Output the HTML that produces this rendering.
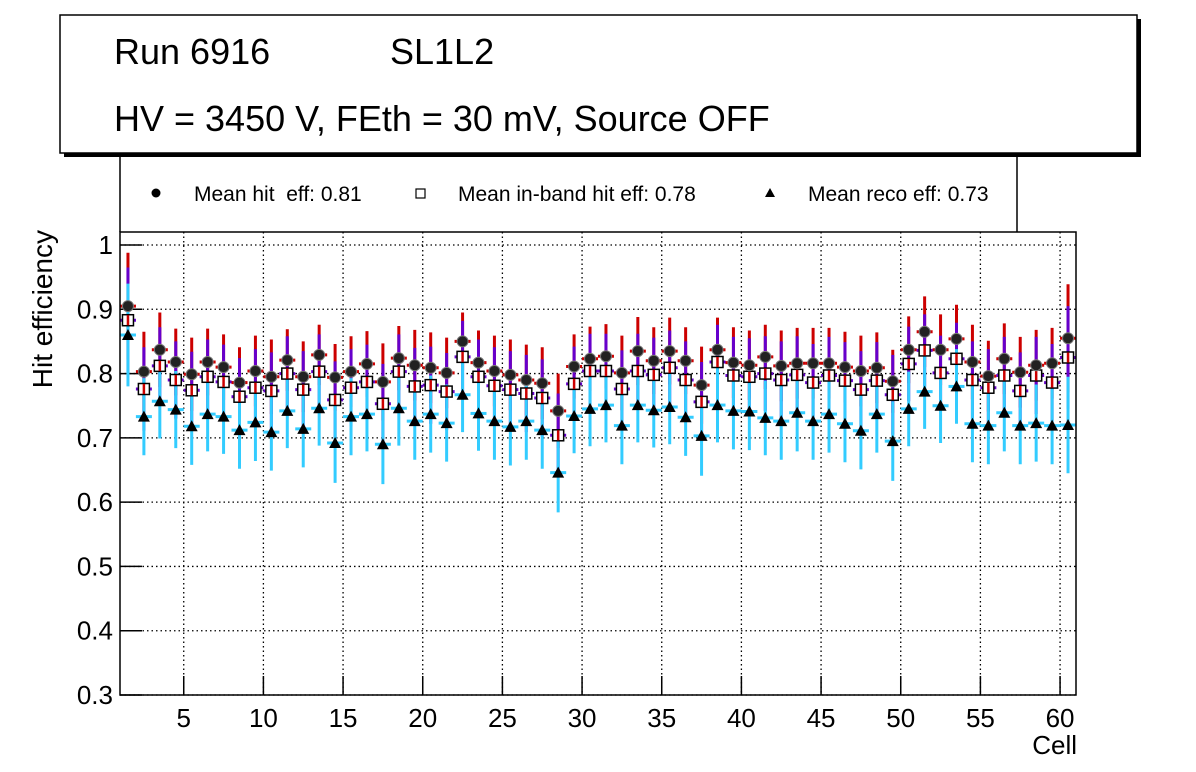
<!DOCTYPE html>
<html><head><meta charset="utf-8"><style>
body{margin:0;background:#fff;}
svg{display:block;font-family:"Liberation Sans",sans-serif;}
</style></head><body>
<svg id="c" width="1196" height="772" xmlns="http://www.w3.org/2000/svg">
<rect x="64" y="19" width="1077" height="138" fill="#000"/>
<rect x="60" y="15" width="1077" height="138" fill="#fff" stroke="#000" stroke-width="1.5"/>
<text x="114" y="64" font-size="36">Run 6916</text>
<text x="390" y="64" font-size="36">SL1L2</text>
<text x="114" y="131" font-size="36">HV = 3450 V, FEth = 30 mV, Source OFF</text>
<g>
<path d="M120 157 V232 M1017 157 V232" stroke="#000" stroke-width="1.5"/>
<circle cx="156" cy="193" r="4.5" fill="#000"/>
<text x="194" y="201" font-size="21" xml:space="preserve">Mean hit  eff: 0.81</text>
<rect x="416" y="189" width="9" height="9" fill="none" stroke="#000" stroke-width="1.2"/>
<text x="458" y="201" font-size="21">Mean in-band hit eff: 0.78</text>
<polygon points="770,188 765,197 775,197" fill="#000"/>
<text x="808" y="201" font-size="21">Mean reco eff: 0.73</text>
</g>
<g id="grid"></g><g id="axes"></g><g id="marks"></g>
<rect x="120" y="232" width="956" height="463" fill="none" stroke="#000" stroke-width="1.5"/>
<text x="1077" y="754" font-size="26" text-anchor="end">Cell</text>
<text transform="translate(52,230) rotate(-90)" font-size="28" text-anchor="end">Hit efficiency</text>
</svg>
<script>
const hitEff=[0.905,0.803,0.837,0.818,0.799,0.818,0.810,0.786,0.804,0.795,0.821,0.795,0.829,0.794,0.803,0.815,0.787,0.824,0.813,0.809,0.801,0.850,0.817,0.804,0.798,0.790,0.785,0.742,0.811,0.823,0.827,0.801,0.835,0.820,0.835,0.820,0.782,0.837,0.817,0.813,0.826,0.812,0.816,0.816,0.816,0.810,0.804,0.809,0.788,0.837,0.865,0.837,0.854,0.818,0.796,0.823,0.802,0.813,0.816,0.855];
const inbandEff=[0.883,0.776,0.812,0.790,0.774,0.795,0.787,0.764,0.778,0.773,0.800,0.775,0.803,0.759,0.778,0.787,0.753,0.803,0.780,0.782,0.772,0.826,0.795,0.781,0.775,0.769,0.762,0.704,0.784,0.804,0.804,0.776,0.804,0.798,0.809,0.790,0.756,0.818,0.797,0.795,0.800,0.790,0.798,0.786,0.797,0.789,0.775,0.789,0.767,0.815,0.836,0.801,0.823,0.790,0.778,0.797,0.773,0.797,0.786,0.825];
const recoEff=[0.860,0.733,0.757,0.744,0.718,0.737,0.733,0.712,0.724,0.709,0.742,0.714,0.746,0.692,0.733,0.737,0.690,0.746,0.726,0.737,0.723,0.767,0.738,0.726,0.717,0.726,0.712,0.646,0.734,0.745,0.751,0.719,0.751,0.743,0.748,0.732,0.703,0.751,0.742,0.741,0.731,0.726,0.739,0.726,0.737,0.722,0.711,0.737,0.695,0.745,0.772,0.750,0.780,0.722,0.719,0.739,0.719,0.723,0.719,0.720];
const hitErr=[0.083,0.062,0.058,0.052,0.057,0.052,0.051,0.055,0.055,0.058,0.048,0.055,0.047,0.052,0.055,0.051,0.060,0.050,0.055,0.055,0.055,0.045,0.050,0.055,0.055,0.055,0.056,0.058,0.050,0.050,0.050,0.058,0.053,0.052,0.052,0.052,0.060,0.050,0.055,0.054,0.050,0.055,0.055,0.055,0.055,0.055,0.055,0.055,0.049,0.052,0.055,0.055,0.053,0.058,0.055,0.055,0.055,0.055,0.055,0.084];
const inbandErr=[0.082,0.065,0.060,0.060,0.060,0.058,0.058,0.060,0.060,0.060,0.058,0.060,0.058,0.060,0.060,0.058,0.062,0.058,0.060,0.060,0.060,0.056,0.058,0.060,0.060,0.060,0.060,0.065,0.058,0.058,0.058,0.060,0.058,0.058,0.058,0.060,0.062,0.058,0.060,0.060,0.058,0.060,0.060,0.060,0.060,0.060,0.060,0.060,0.062,0.058,0.056,0.058,0.056,0.060,0.060,0.060,0.060,0.060,0.060,0.080];
const recoErr=[0.080,0.060,0.058,0.060,0.060,0.058,0.058,0.060,0.060,0.060,0.058,0.060,0.058,0.062,0.060,0.058,0.062,0.058,0.060,0.060,0.060,0.058,0.058,0.060,0.060,0.060,0.060,0.062,0.058,0.058,0.058,0.060,0.058,0.058,0.058,0.060,0.062,0.058,0.060,0.060,0.058,0.060,0.060,0.060,0.060,0.060,0.060,0.060,0.062,0.058,0.058,0.058,0.058,0.060,0.060,0.060,0.060,0.060,0.060,0.075];
const yTicks=[0.3,0.4,0.5,0.6,0.7,0.8,0.9,1];
const yTickLabels=["0.3","0.4","0.5","0.6","0.7","0.8","0.9","1"];
const xTicks=[5,10,15,20,25,30,35,40,45,50,55,60];

const NS="http://www.w3.org/2000/svg";
const X0=120,X1=1076,Y0=695,Y1=245;
const xs=v=>X0+(v-1)/60*(X1-X0);
const ys=v=>Y0-(v-0.3)/0.7*(Y0-Y1);
function mk(tag,attrs,parent){const e=document.createElementNS(NS,tag);for(const k in attrs)e.setAttribute(k,attrs[k]);parent.appendChild(e);return e;}
const grid=document.getElementById('grid'),axes=document.getElementById('axes'),marks=document.getElementById('marks');
yTicks.forEach((v,i)=>{
  const y=ys(v);
  const g=mk('line',{x1:X0,x2:X1,y1:y,y2:y,stroke:'#000','stroke-width':1.3,'stroke-dasharray':'1.5,3'},grid);
  
  
  mk('line',{x1:X0,x2:X0+22,y1:y,y2:y,stroke:'#000','stroke-width':1.5},axes);
  const t=mk('text',{x:113,y:y+9,'font-size':26,'text-anchor':'end'},axes);
  t.textContent=yTickLabels[i];
  
  
});
xTicks.forEach(v=>{
  const x=xs(v);
  const g=mk('line',{x1:x,x2:x,y1:232,y2:Y0,stroke:'#000','stroke-width':1.3,'stroke-dasharray':'1.5,3'},grid);
  
  
  mk('line',{x1:x,x2:x,y1:Y0,y2:Y0-19,stroke:'#000','stroke-width':1.5},axes);
  const t=mk('text',{x:x,y:727,'font-size':26,'text-anchor':'middle'},axes);
  t.textContent=String(v);
  
  
});
function bars(vals,errs,color,name){
  vals.forEach((v,i)=>{
    const x=xs(i+1.5);
    const g=mk('g',{},marks);
    
    
    mk('line',{x1:x,x2:x,y1:ys(v-errs[i]),y2:ys(v+errs[i]),stroke:color,'stroke-width':3},g);
    mk('line',{x1:x-8,x2:x+8,y1:ys(v),y2:ys(v),stroke:color,'stroke-width':3},g);
  });
}
bars(hitEff,hitErr,'#cc0000','hit');
bars(inbandEff,inbandErr,'#6600cc','inband');
bars(recoEff,recoErr,'#33ccff','reco');
inbandEff.forEach((v,i)=>{
  const x=xs(i+1.5),y=ys(v);
  const r=mk('rect',{x:x-5.5,y:y-5.5,width:11,height:11,fill:'#fff',stroke:'#000','stroke-width':1.5},marks);
  
  
  mk('line',{x1:x,x2:x,y1:y-5,y2:y+5,stroke:'#cc0000','stroke-width':2.5},marks);
});
hitEff.forEach((v,i)=>{
  const c=mk('circle',{cx:xs(i+1.5),cy:ys(v),r:5.5,fill:'#222',stroke:'#777','stroke-width':1},marks);
  
  
});
recoEff.forEach((v,i)=>{
  const x=xs(i+1.5),y=ys(v);
  const p=mk('polygon',{points:`${x},${y-6} ${x-6},${y+5} ${x+6},${y+5}`,fill:'#000'},marks);
  
  
});
</script>
</body></html>
